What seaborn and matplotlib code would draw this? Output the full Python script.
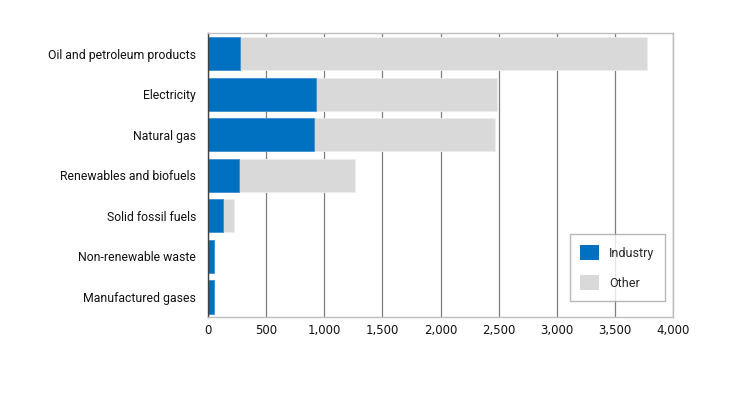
import matplotlib
matplotlib.use("Agg")
import matplotlib.pyplot as plt
import seaborn as sns
import pandas as pd
from matplotlib.patches import Patch

categories = ["Oil and petroleum products", "Electricity", "Natural gas",
              "Renewables and biofuels", "Solid fossil fuels",
              "Non-renewable waste", "Manufactured gases"]
industry = [272, 928, 915, 270, 126, 55, 49]
other = [3506, 1560, 1553, 994, 95, 0, 0]
xticks = [0, 500, 1000, 1500, 2000, 2500, 3000, 3500, 4000]

sns.set_theme(style="white")
plt.rcParams['font.family'] = ['Roboto', 'DejaVu Sans']

df = pd.DataFrame({"cat": categories, "industry": industry,
                   "total": [a + b for a, b in zip(industry, other)]})

BLUE = "#0070C0"
GRAY = "#D9D9D9"

fig = plt.figure(figsize=(7.5, 3.97), dpi=100)
ax = fig.add_axes([0.2773, 0.2008, 0.6204, 0.7153])

sns.barplot(data=df, y="cat", x="total", orient="h", color=GRAY,
            width=0.82, ax=ax, saturation=1, edgecolor="#EEEEEE", linewidth=0.6)
sns.barplot(data=df, y="cat", x="industry", orient="h", color=BLUE,
            width=0.82, ax=ax, saturation=1, edgecolor="#3F8FD0", linewidth=0.6)

ax.set_xlim(0, 4000)
ax.set_xticks(xticks)
ax.set_xticklabels([f"{v:,}" for v in xticks], fontsize=8.5,
                   family=['DejaVu Sans'])
ax.tick_params(axis='y', labelsize=8.8, length=0, pad=8.5, labelcolor="#111111")
ax.tick_params(axis='x', length=0, pad=5, labelcolor="#111111")
ax.set_xlabel("")
ax.set_ylabel("")
ax.set_axisbelow(True)
ax.grid(axis='x', color="#7F7F7F", linewidth=0.9)
ax.grid(axis='y', visible=False)
for s in ["top", "right", "bottom"]:
    ax.spines[s].set_visible(True)
    ax.spines[s].set_color("#BFBFBF")
    ax.spines[s].set_linewidth(1.0)
ax.spines["left"].set_color("#404040")
ax.spines["left"].set_linewidth(1.0)

handles = [Patch(facecolor=BLUE, edgecolor="none", label="Industry"),
           Patch(facecolor=GRAY, edgecolor="none", label="Other")]
leg = ax.legend(handles=handles, loc="lower right",
                bbox_to_anchor=(0.982, 0.057), frameon=True, fancybox=False,
                fontsize=9, handlelength=1.5, handleheight=1.5,
                labelspacing=1.2, borderpad=0.85, handletextpad=0.8,
                borderaxespad=0)
leg.get_frame().set_edgecolor("#A6A6A6")
leg.get_frame().set_linewidth(1.0)

fig.savefig("out.png", dpi=100)
